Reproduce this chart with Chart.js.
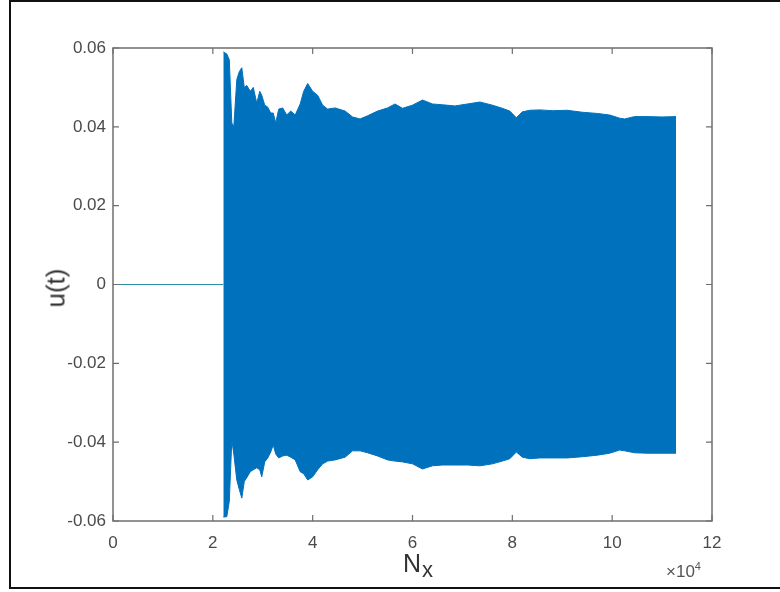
<!DOCTYPE html>
<html>
<head>
<meta charset="utf-8">
<script src="https://cdn.jsdelivr.net/npm/chart.js@4.4.1/dist/chart.umd.min.js"></script>
<style>
  body { margin: 0; background: #fff; }
  #wrap { position: relative; width: 780px; height: 592px; overflow: hidden; font-family: "Liberation Sans", Arial, sans-serif; }
  #frame { position: absolute; left: 9px; top: 0px; width: 800px; height: 585px; border: 2px solid #111; }
  canvas { position: absolute; left: 0; top: 0; }
  .lbl { position: absolute; color: #333; white-space: nowrap; }
  #ylab { left: 56px; top: 288px; font-size: 26px; transform: translate(-50%, -50%) rotate(-90deg); }
  #xlab { left: 403px; top: 551px; font-size: 25px; line-height: 1; }
  #xlab span { font-size: 22px; position: relative; top: 5px; margin-left: 1px; }
  #xmul { left: 666px; top: 561px; font-size: 17px; color: #555; line-height: 1; }
  #xmul sup { font-size: 11px; vertical-align: 7px; }
</style>
</head>
<body>
<div id="wrap">
  <div id="frame"></div>
  <canvas id="chart" width="780" height="592"></canvas>
  <div class="lbl" id="ylab">u(t)</div>
  <div class="lbl" id="xlab">N<span>x</span></div>
  <div class="lbl" id="xmul">×10<sup>4</sup></div>
</div>
<script>
    // x in units of 1e4 samples
    const xTickLabels = ['0', '2', '4', '6', '8', '10', '12'];
    const yTickLabels = ['-0.06', '-0.04', '-0.02', '0', '0.02', '0.04', '0.06'];

    // flat part before the oscillation starts
    const quietX = [0, 2.21];
    const quietY = [0, 0];

    // envelope of the dense oscillation
    const envX = [2.21, 2.28, 2.33, 2.38, 2.42, 2.48, 2.53, 2.58, 2.63, 2.68, 2.75, 2.81, 2.88, 2.94, 2.98,
        3.04, 3.1, 3.16, 3.21, 3.26, 3.32, 3.4, 3.48, 3.56, 3.65, 3.75, 3.82, 3.9, 4.0, 4.1, 4.2, 4.3,
        4.45, 4.65, 4.8, 4.95, 5.1, 5.3, 5.5, 5.65, 5.8, 6.0, 6.2, 6.4, 6.6, 6.85, 7.1, 7.35, 7.6, 7.8,
        7.95, 8.08, 8.2, 8.35, 8.55, 8.8, 9.1, 9.4, 9.7, 9.95, 10.15, 10.25, 10.45, 10.7, 11.0, 11.28];
    const envUpper = [0.059, 0.0585, 0.057, 0.041, 0.040, 0.052, 0.054, 0.055, 0.050, 0.0505, 0.049, 0.050, 0.046, 0.049, 0.048,
        0.0455, 0.045, 0.0435, 0.0435, 0.041, 0.0445, 0.0448, 0.043, 0.044, 0.043, 0.0458, 0.049, 0.051, 0.049, 0.048, 0.0455, 0.0445,
        0.0448, 0.044, 0.0425, 0.042, 0.0428, 0.044, 0.0448, 0.0458, 0.0447, 0.0455, 0.0468, 0.0458, 0.0456, 0.0453, 0.0458, 0.0463, 0.0455, 0.0447,
        0.044, 0.0423, 0.0438, 0.0442, 0.0443, 0.0441, 0.0442, 0.0437, 0.0434, 0.043, 0.0422, 0.042, 0.0426, 0.0426, 0.0425, 0.0426];
    const envLower = [-0.059, -0.0589, -0.055, -0.0395, -0.043, -0.0496, -0.052, -0.0542, -0.050, -0.049, -0.0475, -0.047, -0.0465, -0.047, -0.0488,
        -0.045, -0.044, -0.0425, -0.0407, -0.043, -0.044, -0.0435, -0.0433, -0.0438, -0.0445, -0.0475, -0.048, -0.0496, -0.0488, -0.047, -0.0455, -0.0448,
        -0.0445, -0.0438, -0.0422, -0.0422, -0.0427, -0.0435, -0.0445, -0.0448, -0.045, -0.0455, -0.0468, -0.046, -0.0458, -0.0458, -0.0458, -0.046, -0.0455, -0.0448,
        -0.0442, -0.0425, -0.0438, -0.0442, -0.044, -0.044, -0.044, -0.0437, -0.0433, -0.0428, -0.042, -0.0422, -0.0427, -0.0428, -0.0428, -0.0428];

    const blue = 'rgb(0, 114, 189)';

    function pts(xs, ys) {
        return xs.map((x, i) => ({ x: x, y: ys[i] }));
    }

    // MATLAB style box with inward ticks
    const boxPlugin = {
        id: 'box',
        afterDatasetsDraw(chart) {
            const { ctx, chartArea: a, scales } = chart;
            ctx.save();
            ctx.strokeStyle = '#6f6f6f';
            ctx.lineWidth = 1.5;
            ctx.strokeRect(a.left, a.top, a.right - a.left, a.bottom - a.top);
            ctx.lineWidth = 1.2;
            ctx.beginPath();
            scales.x.ticks.forEach(t => {
                const px = scales.x.getPixelForValue(t.value);
                ctx.moveTo(px, a.bottom); ctx.lineTo(px, a.bottom - 6);
                ctx.moveTo(px, a.top); ctx.lineTo(px, a.top + 6);
            });
            scales.y.ticks.forEach(t => {
                const py = scales.y.getPixelForValue(t.value);
                ctx.moveTo(a.left, py); ctx.lineTo(a.left + 6, py);
                ctx.moveTo(a.right, py); ctx.lineTo(a.right - 6, py);
            });
            ctx.stroke();
            ctx.restore();
        }
    };

    const tickFont = { family: '"Liberation Sans", Arial, sans-serif', size: 17 };

    new Chart(document.getElementById('chart'), {
        type: 'line',
        data: {
            datasets: [
                {
                    data: pts(quietX, quietY),
                    borderColor: 'rgb(50, 140, 170)',
                    borderWidth: 1.2,
                    pointRadius: 0,
                    fill: false
                },
                {
                    data: pts(envX, envUpper),
                    borderColor: blue,
                    backgroundColor: blue,
                    borderWidth: 1,
                    pointRadius: 0,
                    tension: 0,
                    fill: '+1'
                },
                {
                    data: pts(envX, envLower),
                    borderColor: blue,
                    borderWidth: 1,
                    pointRadius: 0,
                    tension: 0,
                    fill: false
                }
            ]
        },
        options: {
            responsive: false,
            animation: false,
            layout: { padding: { left: 0, top: 48, right: 68, bottom: 0 } },
            plugins: { legend: { display: false }, tooltip: { enabled: false } },
            scales: {
                x: {
                    type: 'linear',
                    min: 0,
                    max: 12,
                    afterFit: s => { s.height = 71; },
                    grid: { display: false, drawTicks: false },
                    border: { display: false },
                    ticks: {
                        stepSize: 2,
                        padding: 12,
                        color: '#4a4a4a',
                        font: tickFont,
                        maxRotation: 0,
                        callback: (v, i) => xTickLabels[i]
                    }
                },
                y: {
                    min: -0.06,
                    max: 0.06,
                    afterFit: s => { s.width = 113; },
                    grid: { display: false, drawTicks: false },
                    border: { display: false },
                    ticks: {
                        stepSize: 0.02,
                        padding: 7,
                        color: '#4a4a4a',
                        font: tickFont,
                        callback: (v, i) => yTickLabels[i]
                    }
                }
            }
        },
        plugins: [boxPlugin]
    });
</script>
</body>
</html>
